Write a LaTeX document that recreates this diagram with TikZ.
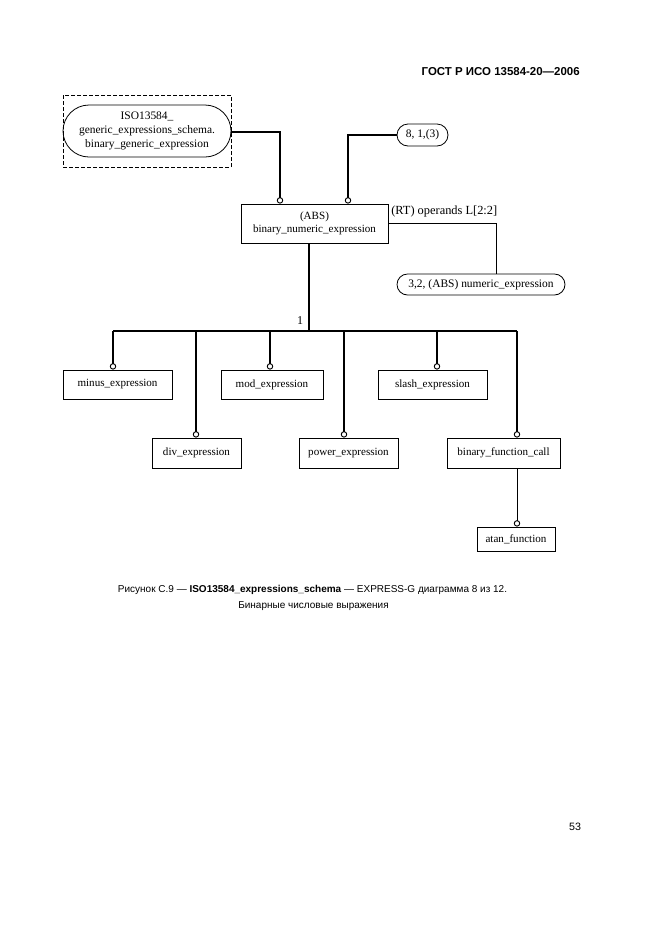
\documentclass[tikz,border=0pt]{standalone}
\usepackage{fontspec}
\setmainfont{Liberation Serif}
\newfontfamily\capfont{Liberation Sans}
\usetikzlibrary{arrows.meta}
\begin{document}
\begin{tikzpicture}[x=0.75pt,y=-0.75pt,
  every node/.style={font=\fontsize{8.3}{10}\selectfont, inner sep=0pt},
  ent/.style={draw, line width=0.6pt, rectangle, align=center},
  pill/.style={draw, line width=0.6pt, rounded corners=#1, align=center},
  rel/.style={line width=1.5pt, -{Circle[open,length=4.8pt,line width=0.7pt]}},
  relplain/.style={line width=1.5pt},
  thinrel/.style={line width=0.7pt},
  captxt/.style={font=\capfont\fontsize{7.5}{9}\selectfont}
]
\useasboundingbox (0,0) rectangle (661,936);

% header and page number
\node[font=\capfont\bfseries\fontsize{8.6}{10}\selectfont, anchor=east] (hdr) at (580,72) {ГОСТ Р ИСО 13584-20—2006};
\node[font=\capfont\fontsize{8}{10}\selectfont] (pg) at (575,827) {53};

% dashed page reference box
\draw[line width=0.7pt, dash pattern=on 3pt off 1.5pt] (63,95) rectangle (231,167);
\node[pill=19.5pt, minimum width=126pt, minimum height=39pt, font=\fontsize{8.6}{10.2}\selectfont] (gen) at (147,131)
  {ISO13584\_\\generic\_expressions\_schema.\\binary\_generic\_expression};

% main entity
\node[ent, minimum width=110.25pt, minimum height=29.25pt] (bne) at (314.5,223.5)
  {(ABS)\\binary\_numeric\_expression};

% off-page reference
\node[pill=8.25pt, minimum width=38.25pt, minimum height=16.5pt, font=\fontsize{8.6}{10}\selectfont] (ref) at (422.5,135) {8, 1,(3)};

% numeric expression
\node[pill=7.9pt, minimum width=126pt, minimum height=15.75pt, font=\fontsize{8.6}{10}\selectfont] (num) at (481,284.5) {3,2, (ABS) numeric\_expression};

% subtype entities
\node[ent, minimum width=81.75pt, minimum height=21.75pt] (minus) at (117.5,384.5) {minus\_expression};
\node[ent, minimum width=76.5pt, minimum height=21.75pt] (mod) at (272,384.5) {mod\_expression};
\node[ent, minimum width=81.75pt, minimum height=21.75pt] (slash) at (432.5,384.5) {slash\_expression};
\node[ent, minimum width=66.75pt, minimum height=22.5pt] (div) at (196.5,453) {div\_expression};
\node[ent, minimum width=74.25pt, minimum height=22.5pt] (power) at (348.5,453) {power\_expression};
\node[ent, minimum width=84.75pt, minimum height=22.5pt] (bfc) at (503.5,453) {binary\_function\_call};
\node[ent, minimum width=58.5pt, minimum height=18pt] (atan) at (516,539) {atan\_function};

% supertype links
\coordinate (k1) at (280,132);
\coordinate (k2) at (348,135);
\draw[rel] (gen.east |- k1) -| (k1 |- bne.north);
\draw[rel] (ref.west |- k2) -| (k2 |- bne.north);

% operands attribute
\coordinate (k3) at (496,223);
\draw[thinrel] (bne.east |- k3) -| (k3 |- num.north);
\node[anchor=west, font=\fontsize{9.3}{11}\selectfont] (oplab) at (391,212) {(RT) operands L[2:2]};

% subtype tree
\coordinate (j) at (309,331);
\coordinate (bl) at (113,331);
\coordinate (b2) at (196,331);
\coordinate (b3) at (270,331);
\coordinate (b4) at (344,331);
\coordinate (b5) at (437,331);
\coordinate (br) at (517,331);
\draw[relplain] (j |- bne.south) -- (j);
\draw[relplain] (bl) -- (br);
\node[font=\fontsize{9}{10}\selectfont] (one) at (300,321) {1};
\draw[rel] (bl) -- (bl |- minus.north);
\draw[rel] (b2) -- (b2 |- div.north);
\draw[rel] (b3) -- (b3 |- mod.north);
\draw[rel] (b4) -- (b4 |- power.north);
\draw[rel] (b5) -- (b5 |- slash.north);
\draw[rel] (br) -- (br |- bfc.north);
\draw[line width=0.7pt, -{Circle[open,length=4.8pt,line width=0.7pt]}] (br |- bfc.south) -- (br |- atan.north);

% caption
\node[captxt] (c1) at (312.5,590) {Рисунок С.9 — \textbf{ISO13584\_expressions\_schema} — EXPRESS-G диаграмма 8 из 12.};
\node[captxt] (c2) at (313.5,606) {Бинарные числовые выражения};
\end{tikzpicture}
\end{document}
